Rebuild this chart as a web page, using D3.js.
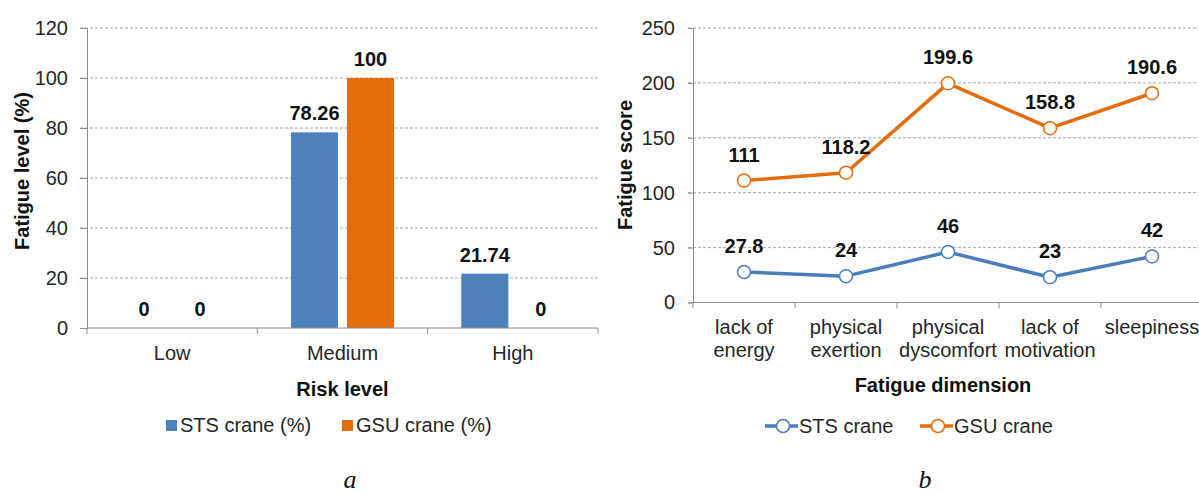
<!DOCTYPE html>
<html>
<head>
<meta charset="utf-8">
<script src="https://cdn.jsdelivr.net/npm/d3@7"></script>
<style>
  body { margin: 0; background: #fff; }
  text { font-family: "Liberation Sans", Arial, sans-serif; }
</style>
</head>
<body>
<script>
// chart a: fatigue level per risk level
const riskLevels = ['Low', 'Medium', 'High'];
const stsPct = [0, 78.26, 21.74];
const gsuPct = [0, 100, 0];
const pctTicks = [0, 20, 40, 60, 80, 100, 120];

// chart b: fatigue score per dimension
const dimensions = [['lack of', 'energy'], ['physical', 'exertion'], ['physical', 'dyscomfort'], ['lack of', 'motivation'], ['sleepiness']];
const stsScore = [27.8, 24, 46, 23, 42];
const gsuScore = [111, 118.2, 199.6, 158.8, 190.6];
const scoreTicks = [0, 50, 100, 150, 200, 250];

const width = 1199;
const height = 494;
const blue = '#4f81bd';
const orange = '#e46c0a';
const axisGray = '#8c8c8c';
const gridGray = '#a6a6a6';
const textColor = '#262626';

const svg = d3.select('body')
  .append('svg')
  .attr('width', width)
  .attr('height', height);

// ---------- chart a ----------
const a = { left: 87, right: 598, top: 28, bottom: 328 };

const x0 = d3.scaleBand()
  .domain(riskLevels)
  .range([a.left, a.right]);
const x1 = d3.scaleBand()
  .domain(['sts', 'gsu'])
  .range([0, x0.bandwidth()])
  .paddingInner(0.16)
  .paddingOuter(0.6);
const yA = d3.scaleLinear()
  .domain([0, 120])
  .range([a.bottom, a.top]);

const gA = svg.append('g');

// grid
gA.selectAll('line.grid')
  .data(pctTicks.filter(d => d > 0))
  .enter()
  .append('line')
  .attr('class', 'grid')
  .attr('x1', a.left - 7)
  .attr('x2', a.right)
  .attr('y1', d => yA(d))
  .attr('y2', d => yA(d))
  .attr('stroke', gridGray)
  .attr('stroke-dasharray', '3,2');

const yAxisA = d3.axisLeft(yA).tickValues(pctTicks).tickSize(7).tickPadding(12);
gA.append('g')
  .attr('transform', 'translate(' + a.left + ',0)')
  .call(yAxisA)
  .call(g => g.select('.domain').attr('stroke', axisGray))
  .call(g => g.selectAll('.tick line').attr('stroke', axisGray))
  .call(g => g.selectAll('.tick text').attr('font-size', 20).attr('fill', textColor).style('font-family', '"Liberation Sans", Arial, sans-serif'));

// bars
const barRows = riskLevels.map((r, i) => [
  { cat: r, key: 'sts', v: stsPct[i] },
  { cat: r, key: 'gsu', v: gsuPct[i] },
]).flat();

gA.selectAll('rect.bar')
  .data(barRows)
  .enter()
  .append('rect')
  .attr('class', 'bar')
  .attr('x', d => x0(d.cat) + x1(d.key))
  .attr('width', x1.bandwidth())
  .attr('y', d => yA(d.v))
  .attr('height', d => yA(0) - yA(d.v))
  .attr('fill', d => d.key === 'sts' ? blue : orange);

gA.selectAll('text.val')
  .data(barRows)
  .enter()
  .append('text')
  .attr('class', 'val')
  .attr('x', d => x0(d.cat) + x1(d.key) + x1.bandwidth() / 2)
  .attr('y', d => yA(d.v) - 12)
  .attr('text-anchor', 'middle')
  .attr('font-size', 20)
  .attr('font-weight', 'bold')
  .attr('fill', '#111')
  .text(d => d.v);

// x axis
gA.append('line')
  .attr('x1', a.left).attr('x2', a.right)
  .attr('y1', a.bottom).attr('y2', a.bottom)
  .attr('stroke', axisGray);
gA.selectAll('line.xtick')
  .data(riskLevels.map(r => x0(r)).concat([a.right]))
  .enter()
  .append('line')
  .attr('class', 'xtick')
  .attr('x1', d => d).attr('x2', d => d)
  .attr('y1', a.bottom).attr('y2', a.bottom + 6)
  .attr('stroke', axisGray);
gA.selectAll('text.cat')
  .data(riskLevels)
  .enter()
  .append('text')
  .attr('class', 'cat')
  .attr('x', d => x0(d) + x0.bandwidth() / 2)
  .attr('y', 360)
  .attr('text-anchor', 'middle')
  .attr('font-size', 20)
  .attr('fill', textColor)
  .text(d => d);

gA.append('text')
  .attr('x', (a.left + a.right) / 2)
  .attr('y', 396)
  .attr('text-anchor', 'middle')
  .attr('font-size', 20)
  .attr('font-weight', 'bold')
  .attr('fill', '#111')
  .text('Risk level');

gA.append('text')
  .attr('transform', 'translate(29,171) rotate(-90)')
  .attr('text-anchor', 'middle')
  .attr('font-size', 20)
  .attr('font-weight', 'bold')
  .attr('fill', '#111')
  .text('Fatigue level (%)');

// legend a
const legA = [
  { x: 166, label: 'STS crane (%)', color: blue },
  { x: 342, label: 'GSU crane (%)', color: orange },
];
const legAg = gA.selectAll('g.leg').data(legA).enter().append('g').attr('class', 'leg');
legAg.append('rect')
  .attr('x', d => d.x).attr('y', 420)
  .attr('width', 11).attr('height', 11)
  .attr('fill', d => d.color);
legAg.append('text')
  .attr('x', d => d.x + 14).attr('y', 432)
  .attr('font-size', 20)
  .attr('fill', textColor)
  .text(d => d.label);

// ---------- chart b ----------
const b = { left: 693, right: 1203, top: 28, bottom: 302.5 };

const xB = d3.scaleBand()
  .domain(dimensions.map((d, i) => i))
  .range([b.left, b.right]);
const yB = d3.scaleLinear()
  .domain([0, 250])
  .range([b.bottom, b.top]);

const gB = svg.append('g');

gB.selectAll('line.grid')
  .data(scoreTicks.filter(d => d > 0))
  .enter()
  .append('line')
  .attr('class', 'grid')
  .attr('x1', b.left - 5)
  .attr('x2', b.right)
  .attr('y1', d => yB(d))
  .attr('y2', d => yB(d))
  .attr('stroke', gridGray)
  .attr('stroke-dasharray', '3,2');

const yAxisB = d3.axisLeft(yB).tickValues(scoreTicks).tickSize(5).tickPadding(13);
gB.append('g')
  .attr('transform', 'translate(' + b.left + ',0)')
  .call(yAxisB)
  .call(g => g.select('.domain').attr('stroke', axisGray))
  .call(g => g.selectAll('.tick line').attr('stroke', axisGray))
  .call(g => g.selectAll('.tick text').attr('font-size', 20).attr('fill', textColor).style('font-family', '"Liberation Sans", Arial, sans-serif'));

gB.append('line')
  .attr('x1', b.left).attr('x2', b.right)
  .attr('y1', b.bottom).attr('y2', b.bottom)
  .attr('stroke', axisGray);
gB.selectAll('line.xtick')
  .data(dimensions.map((d, i) => xB(i)).concat([b.right]))
  .enter()
  .append('line')
  .attr('class', 'xtick')
  .attr('x1', d => d).attr('x2', d => d)
  .attr('y1', b.bottom).attr('y2', b.bottom + 6)
  .attr('stroke', axisGray);

const catText = gB.selectAll('text.cat')
  .data(dimensions)
  .enter()
  .append('text')
  .attr('class', 'cat')
  .attr('text-anchor', 'middle')
  .attr('font-size', 20)
  .attr('fill', textColor);
catText.selectAll('tspan')
  .data((d, i) => d.map(line => ({ line, i })))
  .enter()
  .append('tspan')
  .attr('x', d => xB(d.i) + xB.bandwidth() / 2)
  .attr('y', (d, j) => 334 + j * 23)
  .text(d => d.line);

gB.append('text')
  .attr('x', 943)
  .attr('y', 392)
  .attr('text-anchor', 'middle')
  .attr('font-size', 20)
  .attr('font-weight', 'bold')
  .attr('fill', '#111')
  .text('Fatigue dimension');

gB.append('text')
  .attr('transform', 'translate(632,165) rotate(-90)')
  .attr('text-anchor', 'middle')
  .attr('font-size', 20)
  .attr('font-weight', 'bold')
  .attr('fill', '#111')
  .text('Fatigue score');

const series = [
  { name: 'STS crane', values: stsScore, color: '#4a7ebb' },
  { name: 'GSU crane', values: gsuScore, color: orange },
];

const lineFunc = d3.line()
  .x((d, i) => xB(i) + xB.bandwidth() / 2)
  .y(d => yB(d));

series.forEach(s => {
  gB.append('path')
    .attr('d', lineFunc(s.values))
    .attr('fill', 'none')
    .attr('stroke', s.color)
    .attr('stroke-width', 3.5)
    .attr('stroke-linejoin', 'round');
  gB.selectAll(null)
    .data(s.values)
    .enter()
    .append('circle')
    .attr('cx', (d, i) => xB(i) + xB.bandwidth() / 2)
    .attr('cy', d => yB(d))
    .attr('r', 6.5)
    .attr('fill', '#fff')
    .attr('stroke', s.color)
    .attr('stroke-width', 1.5);
  gB.selectAll(null)
    .data(s.values)
    .enter()
    .append('text')
    .attr('x', (d, i) => xB(i) + xB.bandwidth() / 2)
    .attr('y', d => yB(d) - 19)
    .attr('text-anchor', 'middle')
    .attr('font-size', 20)
    .attr('font-weight', 'bold')
    .attr('fill', '#111')
    .text(d => d);
});

// legend b
const legB = [
  { x: 765, label: 'STS crane', color: '#4a7ebb' },
  { x: 920, label: 'GSU crane', color: orange },
];
const legBg = gB.selectAll('g.leg').data(legB).enter().append('g').attr('class', 'leg');
legBg.append('line')
  .attr('x1', d => d.x).attr('x2', d => d.x + 33)
  .attr('y1', 426).attr('y2', 426)
  .attr('stroke', d => d.color)
  .attr('stroke-width', 3.5);
legBg.append('circle')
  .attr('cx', d => d.x + 18).attr('cy', 426)
  .attr('r', 6.5)
  .attr('fill', '#fff')
  .attr('stroke', d => d.color)
  .attr('stroke-width', 1.5);
legBg.append('text')
  .attr('x', d => d.x + 34).attr('y', 433)
  .attr('font-size', 20)
  .attr('fill', textColor)
  .text(d => d.label);

// panel letters
svg.selectAll('text.panel')
  .data([{ t: 'a', x: 350 }, { t: 'b', x: 925 }])
  .enter()
  .append('text')
  .attr('class', 'panel')
  .attr('x', d => d.x)
  .attr('y', 488)
  .attr('text-anchor', 'middle')
  .style('font-family', '"Liberation Serif", "DejaVu Serif", serif')
  .style('font-style', 'italic')
  .attr('font-size', 26)
  .attr('fill', '#111')
  .text(d => d.t);
</script>
</body>
</html>
